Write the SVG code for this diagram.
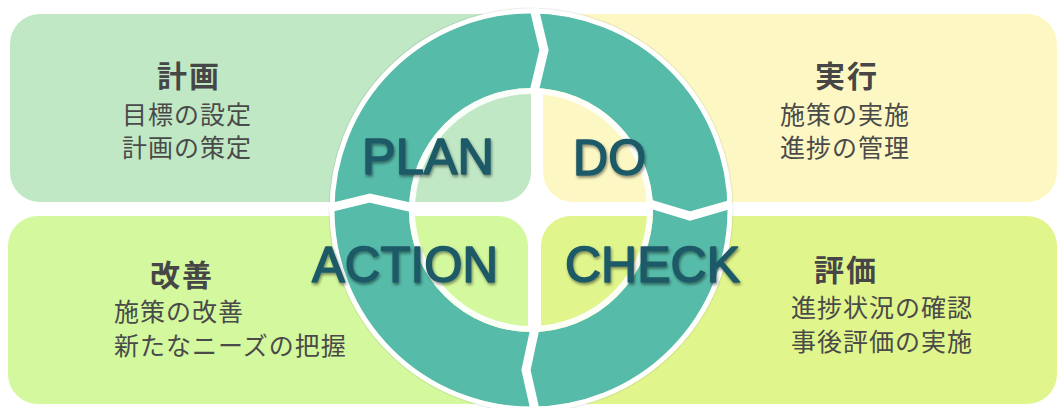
<svg xmlns="http://www.w3.org/2000/svg" width="1059" height="408" viewBox="0 0 1059 408">
  <defs>
    <style>
      .title{font-family:"Noto Sans CJK JP","Noto Sans",sans-serif;font-size:30px;font-weight:700;fill:#464646;letter-spacing:2px}
      .sub{font-family:"Noto Sans CJK JP","Noto Sans",sans-serif;font-size:25px;font-weight:400;fill:#4a4a4a;letter-spacing:1px}
      .big{font-family:"Liberation Sans",Arial,sans-serif;font-size:50px;fill:#1f5a67;stroke:#1f5a67;stroke-width:1.6;stroke-linejoin:round;filter:url(#tshadow)}
      .sep{fill:none;stroke:#ffffff;stroke-width:9;stroke-linejoin:miter}
    </style>
    <filter id="tshadow" x="-10%" y="-20%" width="130%" height="150%">
      <feGaussianBlur in="SourceAlpha" stdDeviation="1.6"/>
      <feOffset dx="1" dy="2" result="b"/>
      <feFlood flood-color="#000" flood-opacity="0.45"/>
      <feComposite in2="b" operator="in"/>
      <feMerge><feMergeNode/><feMergeNode in="SourceGraphic"/></feMerge>
    </filter>
  </defs>

  <rect width="1059" height="408" fill="#ffffff"/>

  <g id="box-plan">
    <rect x="10" y="14" width="521" height="188" rx="30" fill="#c0e8c5"/>
    <text class="title" x="189" y="87" text-anchor="middle">計画</text>
    <text class="sub" x="187" y="124" text-anchor="middle">目標の設定</text>
    <text class="sub" x="187" y="157" text-anchor="middle">計画の策定</text>
  </g>
  <g id="box-do">
    <rect x="543" y="14" width="514" height="188" rx="30" fill="#fdf8c3"/>
    <text class="title" x="847" y="87" text-anchor="middle">実行</text>
    <text class="sub" x="845" y="124" text-anchor="middle">施策の実施</text>
    <text class="sub" x="845" y="157" text-anchor="middle">進捗の管理</text>
  </g>
  <g id="box-action">
    <rect x="8" y="216" width="520" height="188" rx="30" fill="#d3f89d"/>
    <text class="title" x="182" y="286" text-anchor="middle">改善</text>
    <text class="sub" x="114" y="321">施策の改善</text>
    <text class="sub" x="114" y="355">新たなニーズの把握</text>
  </g>
  <g id="box-check">
    <rect x="541" y="216" width="516" height="188" rx="30" fill="#e0f58c"/>
    <text class="title" x="846" y="281" text-anchor="middle">評価</text>
    <text class="sub" x="791" y="317">進捗状況の確認</text>
    <text class="sub" x="791" y="351">事後評価の実施</text>
  </g>

  <g id="cycle">
    <circle cx="531" cy="210" r="201" fill="none" stroke="#000" stroke-width="3" opacity="0.08"/>
    <path d="M531 13 A197 197 0 1 1 531 407 A197 197 0 1 1 531 13 Z M531 88 A122 122 0 1 0 531 332 A122 122 0 1 0 531 88 Z" fill="#57bba9" fill-rule="evenodd"/>
    <circle cx="531" cy="210" r="199" fill="none" stroke="#ffffff" stroke-width="5"/>
    <circle cx="531" cy="210" r="119" fill="none" stroke="#ffffff" stroke-width="6" opacity="0.92"/>
  </g>

  <g id="connectors">
    <polyline class="sep" points="534,8 544,50 534,92"/>
    <polyline class="sep" points="650,204 690,216 732,204"/>
    <polyline class="sep" points="535,328 526,370 535,410"/>
    <polyline class="sep" points="329,208 370,198 414,208"/>
  </g>

  <g id="labels">
    <text class="big" x="362" y="174" textLength="132" lengthAdjust="spacingAndGlyphs">PLAN</text>
    <text class="big" x="573" y="175" textLength="73" lengthAdjust="spacingAndGlyphs">DO</text>
    <text class="big" x="312" y="282" textLength="186" lengthAdjust="spacingAndGlyphs">ACTION</text>
    <text class="big" x="565" y="282" textLength="175" lengthAdjust="spacingAndGlyphs">CHECK</text>
  </g>
</svg>
